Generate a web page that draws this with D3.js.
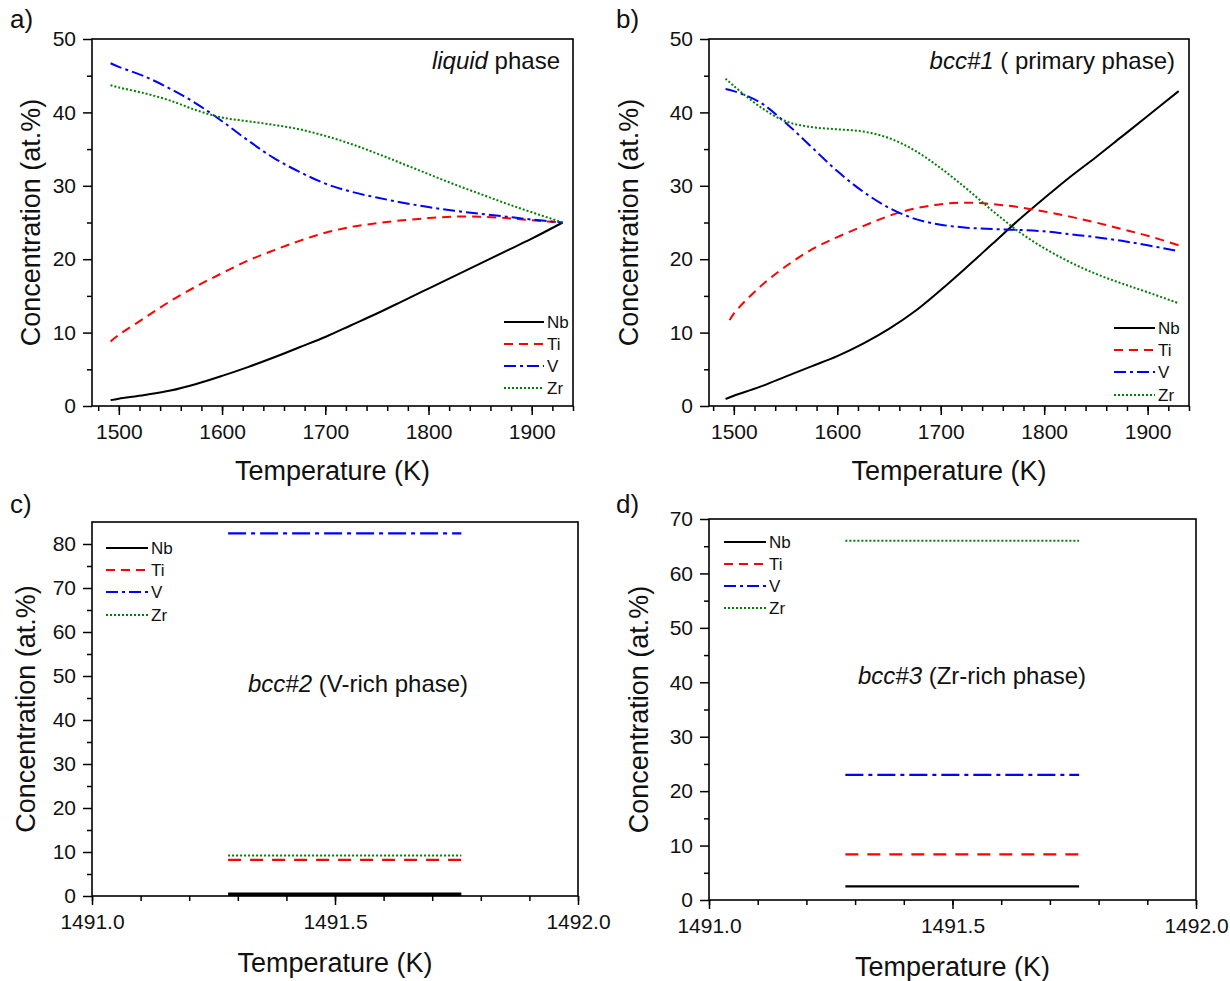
<!DOCTYPE html>
<html>
<head>
<meta charset="utf-8">
<script src="https://cdn.jsdelivr.net/npm/d3@7"></script>
<style>
  body { margin: 0; background: #fff; }
  text { font-family: "Liberation Sans", Arial, sans-serif; fill: #111; }
</style>
</head>
<body>
<svg id="fig" width="1230" height="981"></svg>
<script>
// ---- data ----
const elements = ["Nb", "Ti", "V", "Zr"];

// a) liquid phase
const tempsA = [1492, 1500, 1525, 1550, 1575, 1600, 1625, 1650, 1675, 1700, 1725, 1750, 1775, 1800, 1825, 1850, 1875, 1900, 1930];
const nbA = [0.8, 1.0, 1.5, 2.1, 3.0, 4.1, 5.3, 6.6, 8.0, 9.4, 11.0, 12.6, 14.3, 16.0, 17.7, 19.4, 21.1, 22.8, 25.0];
const tiA = [8.8, 9.7, 12.0, 14.3, 16.3, 18.1, 19.8, 21.2, 22.5, 23.6, 24.4, 24.9, 25.3, 25.6, 25.8, 25.8, 25.6, 25.3, 25.0];
const vA  = [46.7, 46.2, 44.9, 43.2, 41.2, 38.8, 36.2, 33.8, 31.9, 30.3, 29.2, 28.4, 27.7, 27.1, 26.6, 26.2, 25.8, 25.4, 25.0];
const zrA = [43.7, 43.4, 42.6, 41.6, 40.3, 39.3, 38.8, 38.3, 37.7, 36.8, 35.7, 34.4, 33.0, 31.6, 30.2, 28.9, 27.6, 26.4, 25.0];

// b) bcc#1 primary phase
const tempsB = [1492, 1500, 1525, 1550, 1575, 1600, 1625, 1650, 1675, 1700, 1725, 1750, 1775, 1800, 1825, 1850, 1875, 1900, 1930];
const nbB = [0.95, 1.4, 2.6, 4.0, 5.4, 6.8, 8.5, 10.5, 12.9, 15.8, 18.9, 22.1, 25.3, 28.3, 31.2, 33.9, 36.7, 39.5, 42.9];
const tempsTiB = [1496, 1500, 1525, 1550, 1575, 1600, 1625, 1650, 1675, 1700, 1725, 1750, 1775, 1800, 1825, 1850, 1875, 1900, 1930];
const tiB = [11.7, 12.6, 16.2, 19.0, 21.3, 23.0, 24.5, 25.9, 26.9, 27.5, 27.7, 27.5, 27.1, 26.5, 25.8, 25.0, 24.1, 23.2, 21.9];
const vB  = [43.2, 42.9, 41.4, 38.6, 35.3, 32.0, 29.2, 27.0, 25.5, 24.7, 24.3, 24.1, 24.0, 23.8, 23.4, 23.0, 22.5, 21.9, 21.1];
const zrB = [44.6, 43.6, 40.8, 38.8, 38.0, 37.7, 37.4, 36.5, 34.8, 32.4, 29.6, 26.6, 23.8, 21.5, 19.6, 18.0, 16.7, 15.5, 14.0];

// c), d) three-phase point: constant compositions
const tempsCD = [1491.28, 1491.76];
const bcc2 = [0.4, 8.2, 82.4, 9.2];   // Nb, Ti, V, Zr
const bcc3 = [2.5, 8.4, 23.0, 66.0];  // Nb, Ti, V, Zr

const xTicksAB = [1500, 1600, 1700, 1800, 1900];
const xTicksCD = [1491.0, 1491.5, 1492.0];

// ---- styling ----
const color = d3.scaleOrdinal(elements, ["#000000", "#ff0000", "#0000ff", "#008000"]);
const dashSmall = { Nb: null, Ti: "9,6", V: "12,4,3,4", Zr: "2,2" };
const dashLarge = { Nb: null, Ti: "13,9", V: "18,5,4,5", Zr: "2,2" };

const svg = d3.select("#fig");

function drawPanel(p) {
  const g = svg.append("g");
  const x = d3.scaleLinear().domain(p.xDomain).range([p.box.l, p.box.r]);
  const y = d3.scaleLinear().domain(p.yDomain).range([p.box.b, p.box.t]);

  // frame
  g.append("rect")
    .attr("x", p.box.l).attr("y", p.box.t)
    .attr("width", p.box.r - p.box.l).attr("height", p.box.b - p.box.t)
    .attr("fill", "none").attr("stroke", "#000").attr("stroke-width", 1.6);

  // minor ticks
  g.append("g").attr("transform", `translate(0,${p.box.b})`)
    .call(d3.axisBottom(x).tickValues(p.xMinor).tickSize(5).tickFormat(""))
    .call(s => s.select(".domain").remove());
  g.append("g").attr("transform", `translate(${p.box.l},0)`)
    .call(d3.axisLeft(y).tickValues(p.yMinor).tickSize(5).tickFormat(""))
    .call(s => s.select(".domain").remove());

  // major ticks
  const xa = g.append("g").attr("transform", `translate(0,${p.box.b})`)
    .call(d3.axisBottom(x).tickValues(p.xTicks).tickSize(9).tickPadding(9).tickFormat(p.xFmt));
  const ya = g.append("g").attr("transform", `translate(${p.box.l},0)`)
    .call(d3.axisLeft(y).tickValues(p.yTicks).tickSize(9).tickPadding(7).tickFormat(d3.format("d")));
  [xa, ya].forEach(a => {
    a.select(".domain").remove();
    a.selectAll("text").attr("font-size", 21).attr("fill", "#111")
      .style("font-family", '"Liberation Sans", Arial, sans-serif');
  });
  g.selectAll(".tick line").attr("stroke", "#000").attr("stroke-width", 1.5);

  // series
  const line = d3.line().x(d => x(d[0])).y(d => y(d[1])).curve(d3.curveCatmullRom.alpha(0.5));
  p.series.forEach(s => {
    g.append("path")
      .datum(d3.zip(s.xs, s.ys))
      .attr("d", line)
      .attr("fill", "none")
      .attr("stroke", color(s.name))
      .attr("stroke-width", s.width || 2)
      .attr("stroke-dasharray", p.dash[s.name]);
  });

  // legend
  elements.forEach((name, i) => {
    const ly = p.legend.ys[i];
    g.append("line")
      .attr("x1", p.legend.x1).attr("x2", p.legend.x2)
      .attr("y1", ly).attr("y2", ly)
      .attr("stroke", color(name)).attr("stroke-width", 2)
      .attr("stroke-dasharray", p.legendDash[name]);
    g.append("text")
      .attr("x", p.legend.tx).attr("y", ly).attr("dy", "0.36em")
      .attr("font-size", 17).text(name);
  });

  // phase note
  const note = g.append("text")
    .attr("x", p.note.x).attr("y", p.note.y)
    .attr("text-anchor", p.note.anchor)
    .attr("font-size", 24);
  note.append("tspan").attr("font-style", "italic").text(p.note.italic);
  note.append("tspan").text(p.note.rest);

  // axis titles
  g.append("text")
    .attr("x", (p.box.l + p.box.r) / 2).attr("y", p.xTitleY)
    .attr("text-anchor", "middle").attr("font-size", 27)
    .text("Temperature (K)");
  g.append("text")
    .attr("transform", `translate(${p.yTitleX},${(p.box.t + p.box.b) / 2}) rotate(-90)`)
    .attr("text-anchor", "middle").attr("font-size", 27)
    .text("Concentration (at.%)");

  // panel label
  g.append("text")
    .attr("x", p.label.x).attr("y", p.label.y)
    .attr("font-size", 26).text(p.label.text);
}

const minorAB = d3.range(1480, 1941, 20);
const minorCD = d3.range(0, 11).map(i => 1491 + i / 10);

drawPanel({
  box: { l: 92, r: 573, t: 39, b: 406 },
  xDomain: [1474, 1940], yDomain: [0, 50],
  xTicks: xTicksAB, xMinor: minorAB, xFmt: d3.format("d"),
  yTicks: d3.range(0, 51, 10), yMinor: d3.range(5, 50, 10),
  series: [
    { name: "Nb", xs: tempsA, ys: nbA },
    { name: "Ti", xs: tempsA, ys: tiA },
    { name: "V", xs: tempsA, ys: vA },
    { name: "Zr", xs: tempsA, ys: zrA }
  ],
  dash: dashSmall, legendDash: dashSmall,
  legend: { x1: 504, x2: 544, tx: 547, ys: [322, 344, 366, 388] },
  note: { italic: "liquid", rest: " phase", x: 560, y: 69, anchor: "end" },
  xTitleY: 480, yTitleX: 40,
  label: { text: "a)", x: 10, y: 28 }
});

drawPanel({
  box: { l: 709, r: 1189, t: 39, b: 406 },
  xDomain: [1476, 1940], yDomain: [0, 50],
  xTicks: xTicksAB, xMinor: minorAB, xFmt: d3.format("d"),
  yTicks: d3.range(0, 51, 10), yMinor: d3.range(5, 50, 10),
  series: [
    { name: "Nb", xs: tempsB, ys: nbB },
    { name: "Ti", xs: tempsTiB, ys: tiB },
    { name: "V", xs: tempsB, ys: vB },
    { name: "Zr", xs: tempsB, ys: zrB }
  ],
  dash: dashSmall, legendDash: dashSmall,
  legend: { x1: 1114, x2: 1155, tx: 1158, ys: [328, 350, 372, 395] },
  note: { italic: "bcc#1", rest: " ( primary phase)", x: 1175, y: 69, anchor: "end" },
  xTitleY: 480, yTitleX: 638,
  label: { text: "b)", x: 616, y: 28 }
});

drawPanel({
  box: { l: 92, r: 578, t: 522, b: 896 },
  xDomain: [1491, 1492], yDomain: [0, 85],
  xTicks: xTicksCD, xMinor: minorCD, xFmt: d3.format(".1f"),
  yTicks: d3.range(0, 81, 10), yMinor: d3.range(5, 85, 10),
  series: elements.map((name, i) => ({ name, xs: tempsCD, ys: [bcc2[i], bcc2[i]], width: name === "Nb" ? 3.5 : 2.2 })),
  dash: dashLarge, legendDash: dashSmall,
  legend: { x1: 106, x2: 148, tx: 151, ys: [548, 570, 592, 615] },
  note: { italic: "bcc#2", rest: " (V-rich phase)", x: 248, y: 692, anchor: "start" },
  xTitleY: 972, yTitleX: 35,
  label: { text: "c)", x: 10, y: 513 }
});

drawPanel({
  box: { l: 709, r: 1196, t: 519, b: 900 },
  xDomain: [1491, 1492], yDomain: [0, 70],
  xTicks: xTicksCD, xMinor: minorCD, xFmt: d3.format(".1f"),
  yTicks: d3.range(0, 71, 10), yMinor: d3.range(5, 70, 10),
  series: elements.map((name, i) => ({ name, xs: tempsCD, ys: [bcc3[i], bcc3[i]], width: 2.2 })),
  dash: dashLarge, legendDash: dashSmall,
  legend: { x1: 724, x2: 766, tx: 769, ys: [542, 564, 586, 608] },
  note: { italic: "bcc#3", rest: " (Zr-rich phase)", x: 858, y: 684, anchor: "start" },
  xTitleY: 976, yTitleX: 648,
  label: { text: "d)", x: 616, y: 513 }
});
</script>
</body>
</html>
